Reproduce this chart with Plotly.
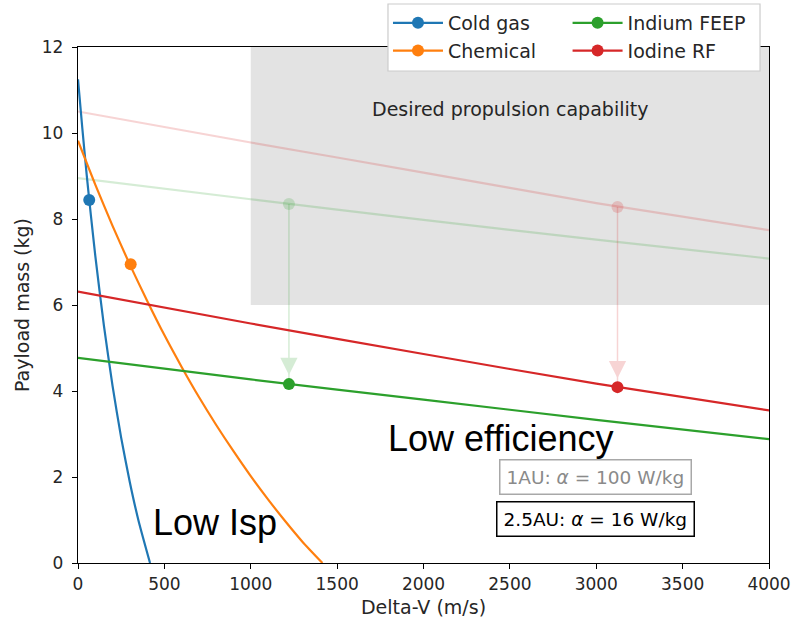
import plotly.graph_objects as go

# ---------------- data ----------------
cold_dv = [0, 25, 50, 75, 100, 150, 200, 250, 300, 350, 417]
cold_m = [11.25, 10.11, 9.04, 8.07, 7.15, 5.52, 4.12, 2.91, 1.88, 0.99, 0.0]

chem_dv = [0, 100, 200, 300, 400, 500, 600, 700, 800, 900, 1000, 1100, 1200, 1300, 1415]
chem_m = [9.82, 8.80, 7.84, 6.94, 6.10, 5.30, 4.56, 3.86, 3.21, 2.60, 2.02, 1.48, 0.97, 0.49, 0.0]

ep_dv = [0, 1000, 2000, 3000, 4000]
feep_m_1au = [8.95, 8.46, 7.98, 7.52, 7.08]
feep_m_25au = [4.77, 4.27, 3.80, 3.33, 2.88]
rf_m_1au = [10.50, 9.78, 9.08, 8.37, 7.74]
rf_m_25au = [6.31, 5.57, 4.86, 4.17, 3.55]

# operating points
cold_pt = (65, 8.44)
chem_pt = (305, 6.95)
feep_pt_dv = 1221
feep_pt_1au = 8.35
feep_pt_25au = 4.16
rf_pt_dv = 3123
rf_pt_1au = 8.28
rf_pt_25au = 4.09

desired_dv = [1000, 4000]
desired_m = [6, 12]

names = ["Cold gas", "Chemical", "Indium FEEP", "Iodine RF"]
colors = ["#1f77b4", "#ff7f0e", "#2ca02c", "#d62728"]
faded = ["rgba(44,160,44,0.2)", "rgba(214,39,40,0.2)"]
faded_solid = ["#d5ecd5", "#f7d4d4"]

FONT = "DejaVu Sans"

fig = go.Figure()

# desired region
fig.add_shape(type="rect", xref="x", yref="y",
              x0=desired_dv[0], x1=desired_dv[1], y0=desired_m[0], y1=desired_m[1],
              fillcolor="#e3e3e3", line_width=0, layer="below")

def line(x, y, color, width=2.2):
    fig.add_trace(go.Scatter(x=x, y=y, mode="lines", line=dict(color=color, width=width,
                             shape="spline", smoothing=0.6),
                             showlegend=False, hoverinfo="skip"))

def pt(x, y, color):
    fig.add_trace(go.Scatter(x=[x], y=[y], mode="markers", marker=dict(color=color, size=12),
                             showlegend=False, hoverinfo="skip"))

# faded (1 AU) curves
line(ep_dv, feep_m_1au, faded[0])
line(ep_dv, rf_m_1au, faded[1])
pt(feep_pt_dv, feep_pt_1au, faded[0])
pt(rf_pt_dv, rf_pt_1au, faded[1])

# arrow shafts
fig.add_trace(go.Scatter(x=[feep_pt_dv, feep_pt_dv], y=[feep_pt_1au, feep_pt_25au], mode="lines",
                         line=dict(color=faded[0], width=1.5), showlegend=False, hoverinfo="skip"))
fig.add_trace(go.Scatter(x=[rf_pt_dv, rf_pt_dv], y=[rf_pt_1au, rf_pt_25au], mode="lines",
                         line=dict(color=faded[1], width=1.5), showlegend=False, hoverinfo="skip"))

# main curves
line(cold_dv, cold_m, colors[0])
line(chem_dv, chem_m, colors[1])
line(ep_dv, feep_m_25au, colors[2])
line(ep_dv, rf_m_25au, colors[3])
pt(cold_pt[0], cold_pt[1], colors[0])
pt(chem_pt[0], chem_pt[1], colors[1])
pt(feep_pt_dv, feep_pt_25au, colors[2])
pt(rf_pt_dv, rf_pt_25au, colors[3])

# legend proxies: two columns via two legends
for idx, leg in [(0, "legend"), (1, "legend"), (2, "legend2"), (3, "legend2")]:
    fig.add_trace(go.Scatter(x=[None], y=[None], mode="lines+markers", name=names[idx],
                             line=dict(color=colors[idx], width=2.2),
                             marker=dict(color=colors[idx], size=12),
                             legend=leg))

# legend frame
fig.add_shape(type="rect", xref="paper", yref="paper", x0=0.4486, x1=0.987, y0=0.9535, y1=1.0833,
              fillcolor="white", line=dict(color="#cccccc", width=1.2), layer="above")

# arrow heads
for xv, yv, c in [(feep_pt_dv, feep_pt_25au, faded_solid[0]), (rf_pt_dv, rf_pt_25au, faded_solid[1])]:
    fig.add_annotation(x=xv, y=yv, xref="x", yref="y", ax=0, ay=-24, text="",
                       showarrow=True, arrowhead=2, arrowsize=2.3, arrowwidth=1.5,
                       arrowcolor=c, standoff=9)

# texts
fig.add_annotation(x=2500, y=10.56, text="Desired propulsion capability", showarrow=False,
                   font=dict(family=FONT, size=19, color="#262626"))
fig.add_annotation(x=2443, y=2.9, text="Low efficiency", showarrow=False,
                   font=dict(family="Liberation Sans, Arial", size=36, color="black"))
fig.add_annotation(x=793, y=0.95, text="Low Isp", showarrow=False,
                   font=dict(family="Liberation Sans, Arial", size=36, color="black"))
fig.add_annotation(x=2993, y=2.0, text="1AU: <i>α</i> = 100 W/kg", showarrow=False,
                   font=dict(family=FONT, size=18.5, color="#8a8a8a"),
                   bordercolor="#a8a8a8", borderwidth=1.5, borderpad=6, bgcolor="white")
fig.add_annotation(x=2998, y=1.02, text="2.5AU: <i>α</i> = 16 W/kg", showarrow=False,
                   font=dict(family=FONT, size=18.5, color="black"),
                   bordercolor="black", borderwidth=1.5, borderpad=6, bgcolor="white")

axis_common = dict(showline=True, linecolor="black", linewidth=1.3, mirror=True,
                   ticks="outside", ticklen=5, tickwidth=1.3, tickcolor="black",
                   showgrid=False, zeroline=False,
                   tickfont=dict(family=FONT, size=17, color="#262626"))

fig.update_xaxes(range=[0, 4000], dtick=500, tick0=0,
                 title=dict(text="Delta-V (m/s)", font=dict(family=FONT, size=19, color="#262626"), standoff=8),
                 **axis_common)
fig.update_yaxes(range=[0, 12], dtick=2, tick0=0, ticklabelstandoff=5,
                 title=dict(text="Payload mass (kg)", font=dict(family=FONT, size=19, color="#262626"), standoff=7),
                 **axis_common)

leg_common = dict(orientation="v", yanchor="top", xanchor="left", bgcolor="rgba(0,0,0,0)",
                  borderwidth=0, itemwidth=50, font=dict(family=FONT, size=19, color="#262626"))
fig.update_layout(
    width=796, height=625,
    margin=dict(l=78, r=27, t=47, b=62, autoexpand=False),
    plot_bgcolor="white", paper_bgcolor="white",
    legend=dict(x=0.4486, y=1.0833, **leg_common),
    legend2=dict(x=0.7085, y=1.0833, **leg_common),
)

fig.write_html("out.html", config={"displayModeBar": False},
               post_script="document.body.style.margin='0px';")
